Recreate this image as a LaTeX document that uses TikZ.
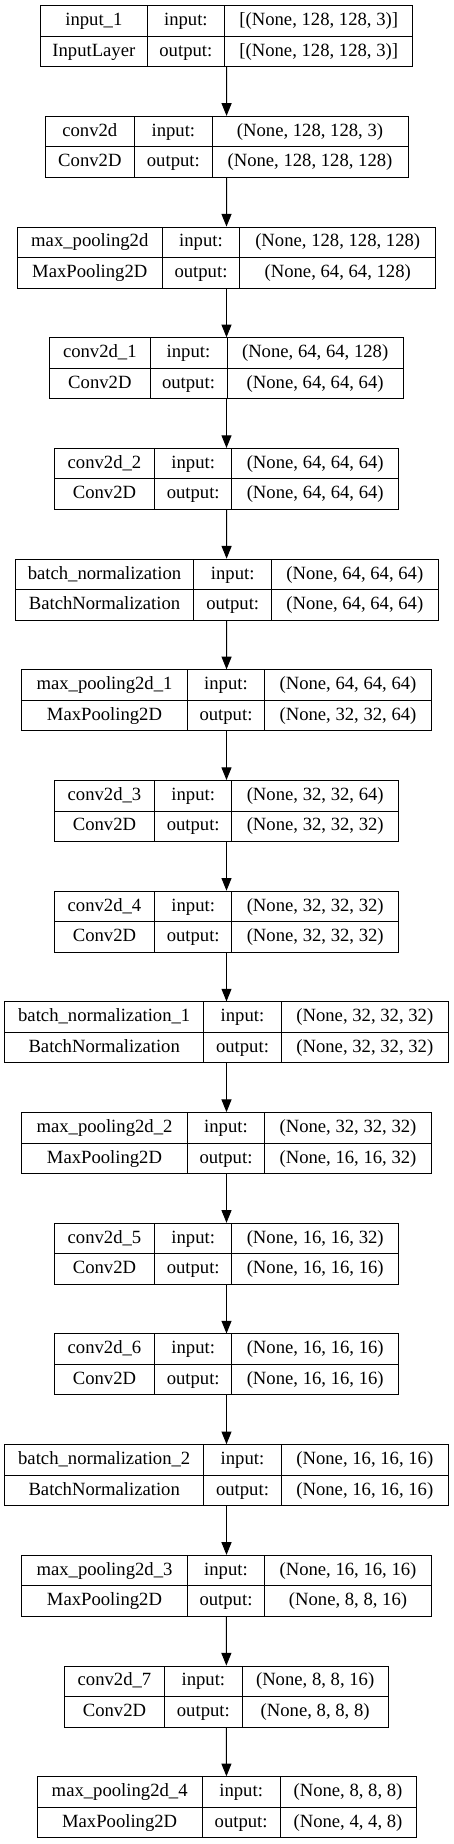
\documentclass[tikz,border=0pt]{standalone}
\usepackage{fontspec}
\setmainfont{Liberation Serif}
\usetikzlibrary{arrows.meta,fit}

\tikzset{
  layerbox/.style={draw, line width=0.75pt, inner sep=0pt},
  cell/.style={inner sep=0pt, text height=9.5pt, text depth=2.5pt, font=\fontsize{14pt}{16pt}\selectfont},
  flow/.style={-{Triangle[length=9.5pt,width=7.5pt]}, line width=0.75pt}
}

% one record box: name, row, left edge, two dividers, right edge, layer name, class
\newcommand{\layer}[8]{%
  \def\lname{#1}%
  \pgfmathsetmacro\ltop{5.7+110.69*#2}%
  \def\la{#3}\def\lb{#4}\def\lc{#5}\def\ld{#6}%
  \def\ltitle{#7}\def\lclass{#8}%
  \layerrest}
% ... then the input and output shapes
\newcommand{\layerrest}[2]{%
  \pgfmathsetmacro\lmid{\ltop+30.5}%
  \pgfmathsetmacro\lbot{\ltop+61}%
  \node[layerbox, fit={(\la,\ltop) (\ld,\lbot)}] (\lname) {};
  \draw[line width=0.75pt] (\lb,\ltop) -- (\lb,\lbot) (\lc,\ltop) -- (\lc,\lbot) (\la,\lmid) -- (\ld,\lmid);
  \node[cell] (\lname-t) at ({(\la+\lb)/2},{\ltop+15.25}) {\ltitle};
  \node[cell] (\lname-c) at ({(\la+\lb)/2},{\ltop+45.75}) {\lclass};
  \node[cell] (\lname-il) at ({(\lb+\lc)/2},{\ltop+15.25}) {input:};
  \node[cell] (\lname-ol) at ({(\lb+\lc)/2},{\ltop+45.75}) {output:};
  \node[cell] (\lname-i) at ({(\lc+\ld)/2},{\ltop+15.25}) {#1};
  \node[cell] (\lname-o) at ({(\lc+\ld)/2},{\ltop+45.75}) {#2};
}

\begin{document}
\begin{tikzpicture}[x=0.75pt,y=-0.75pt]
\useasboundingbox (0,0) rectangle (453,1844);

% layers, top to bottom
\layer{in1}{0}{40.7}{147}{224.7}{412.7}{input\_1}{InputLayer}{[(None, 128, 128, 3)]}{[(None, 128, 128, 3)]}
\layer{conv0}{1}{45}{134.7}{212}{408}{conv2d}{Conv2D}{(None, 128, 128, 3)}{(None, 128, 128, 128)}
\layer{pool0}{2}{17.3}{162.3}{239.7}{435.7}{max\_pooling2d}{MaxPooling2D}{(None, 128, 128, 128)}{(None, 64, 64, 128)}
\layer{conv1}{3}{49.7}{150}{227}{403.3}{conv2d\_1}{Conv2D}{(None, 64, 64, 128)}{(None, 64, 64, 64)}
\layer{conv2}{4}{54.3}{154.7}{231.7}{398.7}{conv2d\_2}{Conv2D}{(None, 64, 64, 64)}{(None, 64, 64, 64)}
\layer{bn0}{5}{15.3}{193.7}{271.7}{438}{batch\_normalization}{BatchNormalization}{(None, 64, 64, 64)}{(None, 64, 64, 64)}
\layer{pool1}{6}{21.7}{187.3}{264.7}{431.3}{max\_pooling2d\_1}{MaxPooling2D}{(None, 64, 64, 64)}{(None, 32, 32, 64)}
\layer{conv3}{7}{54.3}{154.7}{231.7}{398.7}{conv2d\_3}{Conv2D}{(None, 32, 32, 64)}{(None, 32, 32, 32)}
\layer{conv4}{8}{54.3}{154.7}{231.7}{398.7}{conv2d\_4}{Conv2D}{(None, 32, 32, 32)}{(None, 32, 32, 32)}
\layer{bn1}{9}{4.7}{203.7}{281.3}{448.3}{batch\_normalization\_1}{BatchNormalization}{(None, 32, 32, 32)}{(None, 32, 32, 32)}
\layer{pool2}{10}{21.7}{187.3}{264.7}{431.3}{max\_pooling2d\_2}{MaxPooling2D}{(None, 32, 32, 32)}{(None, 16, 16, 32)}
\layer{conv5}{11}{54.3}{154.7}{231.7}{398.7}{conv2d\_5}{Conv2D}{(None, 16, 16, 32)}{(None, 16, 16, 16)}
\layer{conv6}{12}{54.3}{154.7}{231.7}{398.7}{conv2d\_6}{Conv2D}{(None, 16, 16, 16)}{(None, 16, 16, 16)}
\layer{bn2}{13}{4.7}{203.7}{281.3}{448.3}{batch\_normalization\_2}{BatchNormalization}{(None, 16, 16, 16)}{(None, 16, 16, 16)}
\layer{pool3}{14}{21.7}{187.3}{264.7}{431.3}{max\_pooling2d\_3}{MaxPooling2D}{(None, 16, 16, 16)}{(None, 8, 8, 16)}
\layer{conv7}{15}{64.3}{164.7}{242}{388.3}{conv2d\_7}{Conv2D}{(None, 8, 8, 16)}{(None, 8, 8, 8)}
\layer{pool4}{16}{37}{202.3}{280}{416}{max\_pooling2d\_4}{MaxPooling2D}{(None, 8, 8, 8)}{(None, 4, 4, 8)}

% arrows
\foreach \a/\b in {in1/conv0, conv0/pool0, pool0/conv1, conv1/conv2, conv2/bn0, bn0/pool1, pool1/conv3, conv3/conv4, conv4/bn1, bn1/pool2, pool2/conv5, conv5/conv6, conv6/bn2, bn2/pool3, pool3/conv7, conv7/pool4}
  \draw[flow] (\a) -- (\b);

\end{tikzpicture}
\end{document}
